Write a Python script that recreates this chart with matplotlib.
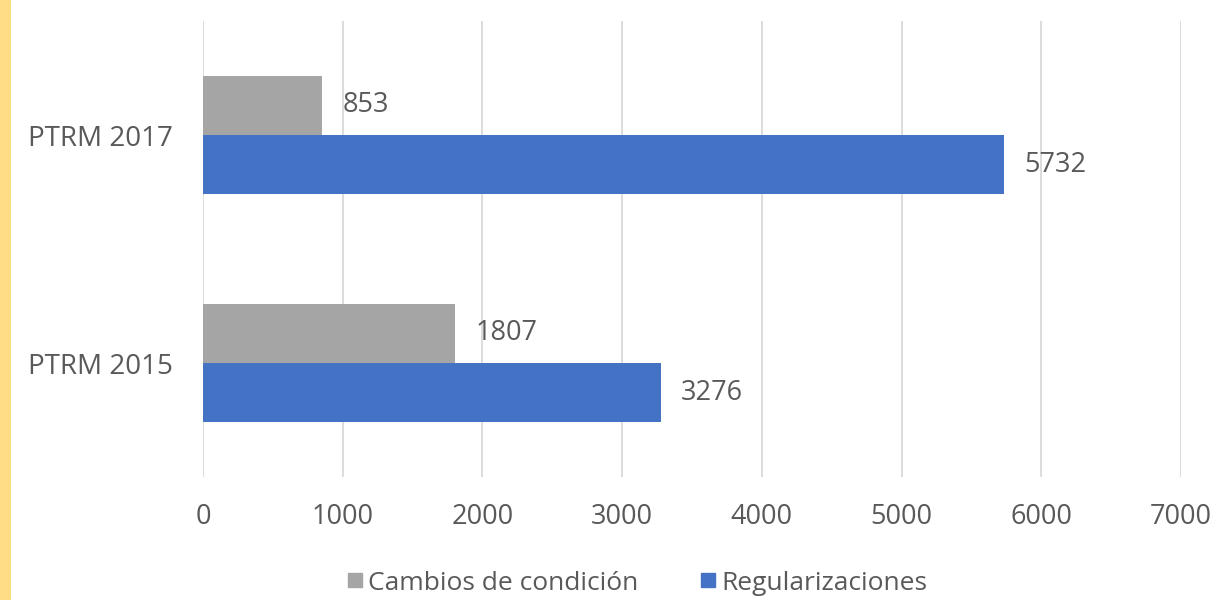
import matplotlib
matplotlib.use("Agg")
import matplotlib.pyplot as plt
from matplotlib.patches import Rectangle
from matplotlib.lines import Line2D
import numpy as np

categories = ["PTRM 2015", "PTRM 2017"]
series_names = ["Cambios de condición", "Regularizaciones"]
cambios = [1807, 853]
regularizaciones = [3276, 5732]
x_ticks = [0, 1000, 2000, 3000, 4000, 5000, 6000, 7000]

gray = "#A5A5A5"
blue = "#4472C4"
text_color = "#595959"
grid_color = "#D9D9D9"

plt.rcParams["font.family"] = ["Open Sans", "DejaVu Sans"]

fig = plt.figure(figsize=(12.11, 6.0), dpi=100)
fig.patches.append(Rectangle((0, 0), 11 / 1211, 1, transform=fig.transFigure,
                             facecolor="#FEDD84", edgecolor="none", zorder=0))

ax = fig.add_axes([203 / 1211, 123 / 600, 978 / 1211, 456 / 600])
y = np.arange(len(categories))
h = 0.26

b1 = ax.barh(y + h / 2, cambios, height=h, color=gray, zorder=3)
b2 = ax.barh(y - h / 2, regularizaciones, height=h, color=blue, zorder=3)

for bars, vals in ((b1, cambios), (b2, regularizaciones)):
    for bar, v in zip(bars, vals):
        ax.text(v + 145, bar.get_y() + bar.get_height() / 2, f"{v}",
                va="center", ha="left", fontsize=19.5, color=text_color)

ax.set_xlim(0, 7000)
ax.set_ylim(-0.5, 1.5)
ax.set_xticks(x_ticks)
ax.set_xticklabels([str(t) for t in x_ticks])
ax.set_yticks(y)
ax.set_yticklabels(categories)
ax.tick_params(axis="both", length=0, colors=text_color)
ax.tick_params(axis="x", pad=19, labelsize=19.5)
ax.tick_params(axis="y", pad=22, labelsize=20)
ax.grid(axis="x", color=grid_color, linewidth=1.3, zorder=0)
for s in ax.spines.values():
    s.set_visible(False)

handles = [Line2D([], [], marker="s", linestyle="none", markersize=9.5,
                  markerfacecolor=c, markeredgecolor=c) for c in (gray, blue)]
leg = fig.legend(handles, series_names, loc="center", ncol=2,
                 bbox_to_anchor=(638 / 1211, 1 - 583 / 600), frameon=False,
                 fontsize=19, handlelength=0.5, handletextpad=0.25,
                 columnspacing=2.4, borderpad=0, borderaxespad=0)
for t in leg.get_texts():
    t.set_color(text_color)

fig.savefig("out.png", dpi=100, facecolor="white")
